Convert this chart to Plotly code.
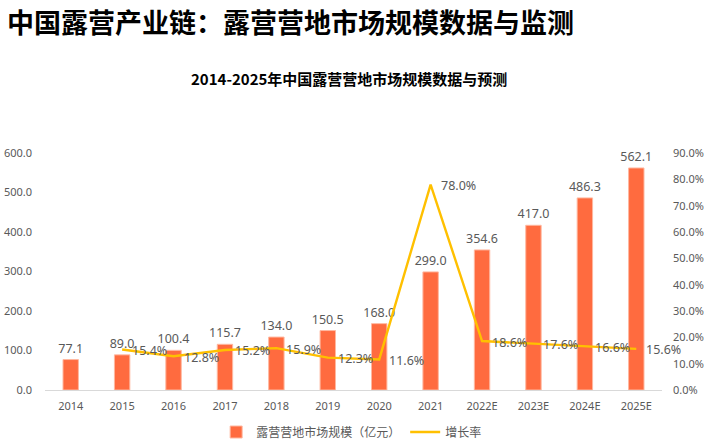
import plotly.graph_objects as go

years = ["2014", "2015", "2016", "2017", "2018", "2019", "2020", "2021",
         "2022E", "2023E", "2024E", "2025E"]
market_size = [77.1, 89.0, 100.4, 115.7, 134.0, 150.5, 168.0, 299.0,
               354.6, 417.0, 486.3, 562.1]
growth_years = years[1:]
growth_rate = [15.4, 12.8, 15.2, 15.9, 12.3, 11.6, 78.0, 18.6, 17.6, 16.6, 15.6]

left_ticks = [0, 100, 200, 300, 400, 500, 600]
right_ticks = [0, 10, 20, 30, 40, 50, 60, 70, 80, 90]

FONT = "Noto Sans, Noto Sans CJK SC, sans-serif"
GRAY = "#595959"
PH = 440 - 153 - 50  # plot height in px
PW = 707 - 45 - 45

fig = go.Figure()
fig.add_trace(go.Bar(
    x=years, y=market_size, name="露营营地市场规模（亿元）",
    marker=dict(color="#FF6B3F", line=dict(color="#FFB8A0", width=1)),
    text=[f"{v:.1f}" for v in market_size], textposition="outside",
    constraintext="none",
    textfont=dict(size=12.5, color=GRAY, family=FONT), cliponaxis=False,
    yaxis="y",
))
fig.add_trace(go.Scatter(
    x=growth_years, y=growth_rate, name="增长率", mode="lines",
    line=dict(color="#FFC000", width=2.4),
    yaxis="y2",
))

annotations = [
    dict(text="<b>中国露营产业链：露营营地市场规模数据与监测</b>", xref="paper", yref="paper",
         x=-40 / PW, y=1 + (153 - 21) / PH,
         xanchor="left", yanchor="middle", showarrow=False,
         font=dict(size=27, color="#000000", family="Noto Sans CJK SC")),
    dict(text="<b>2014-2025年中国露营营地市场规模数据与预测</b>", xref="paper", yref="paper",
         x=(349 - 45) / PW, y=1 + (153 - 78) / PH, xanchor="center", yanchor="middle",
         showarrow=False, font=dict(size=15, color="#000000", family="Noto Sans CJK SC")),
]
for yr, r in zip(growth_years, growth_rate):
    annotations.append(dict(
        text=f"{r:.1f}%", x=years.index(yr), y=r, xref="x", yref="y2",
        xanchor="left", yanchor="middle", xshift=8, yshift=-1, showarrow=False,
        font=dict(size=12.5, color=GRAY, family=FONT)))

fig.update_layout(
    width=707, height=440,
    margin=dict(l=45, r=45, t=153, b=50, autoexpand=False),
    paper_bgcolor="white", plot_bgcolor="white",
    font=dict(family=FONT, color=GRAY, size=11),
    bargap=0.7,
    showlegend=True,
    legend=dict(orientation="h", x=0.497, xanchor="center",
                y=-(432 - 390) / PH, yanchor="middle",
                font=dict(size=12, color=GRAY, family="Noto Sans CJK SC"),
                itemwidth=30, traceorder="normal"),
    xaxis=dict(type="category", range=[-0.5, len(years) - 0.5],
               showline=True, linecolor="#D9D9D9", linewidth=1,
               ticks="", tickfont=dict(size=11, color=GRAY), showgrid=False,
               ticklabelstandoff=6),
    yaxis=dict(range=[0, 600], tickvals=left_ticks,
               ticktext=[f"{v:.1f}" for v in left_ticks],
               showgrid=False, zeroline=False, showline=False,
               tickfont=dict(size=11, color=GRAY), ticklabelstandoff=12),
    yaxis2=dict(range=[0, 90], tickvals=right_ticks,
                ticktext=[f"{v:.1f}%" for v in right_ticks],
                overlaying="y", side="right", showgrid=False, zeroline=False,
                showline=False, tickfont=dict(size=11, color=GRAY),
                ticklabelstandoff=10),
    annotations=annotations,
)

fig.write_html("out.html")
